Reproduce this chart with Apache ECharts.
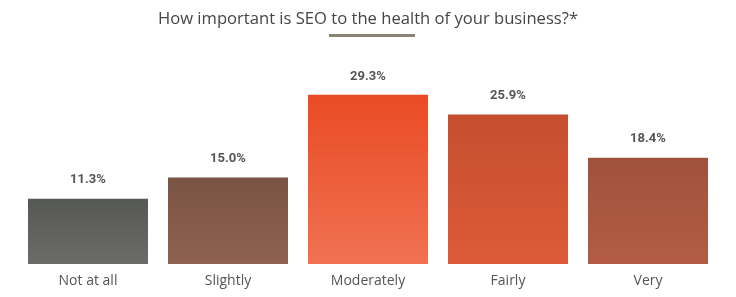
<!DOCTYPE html>
<html>
<head>
<meta charset="utf-8">
<script src="https://cdn.jsdelivr.net/npm/echarts@6/dist/echarts.min.js"></script>
<style>html,body{margin:0;padding:0;background:#fff}#c{width:736px;height:297px}</style>
</head>
<body>
<div id="c"></div>
<script>
const categories = ["Not at all", "Slightly", "Moderately", "Fairly", "Very"];
const values = [11.3, 15.0, 29.3, 25.9, 18.4];
const titleText = "How important is SEO to the health of your business?*";
const barColors = [
  ["#565854", "#6b6c68"],
  ["#7a5344", "#8f6251"],
  ["#e94b24", "#f07152"],
  ["#c54e2f", "#dd5b37"],
  ["#a1523c", "#b25c44"]
];

const chart = echarts.init(document.getElementById('c'), null, {renderer: 'canvas'});
chart.setOption({
  animation: false,
  backgroundColor: '#ffffff',
  title: {
    text: titleText,
    left: 'center',
    top: 6,
    textStyle: {fontFamily: 'Open Sans', fontWeight: 'normal', fontSize: 16.6, color: '#454545'}
  },
  graphic: [{
    type: 'rect',
    shape: {x: 329, y: 34, width: 86, height: 3},
    style: {fill: '#8b8373'}
  }],
  grid: {left: 18, right: 18, top: 33, bottom: 33},
  xAxis: {
    type: 'category',
    data: categories,
    axisLine: {show: false},
    axisTick: {show: false},
    axisLabel: {fontFamily: 'Open Sans', fontSize: 14, color: '#555555', margin: 10}
  },
  yAxis: {
    type: 'value',
    min: 0,
    max: 40,
    show: false,
    splitLine: {show: false}
  },
  series: [{
    type: 'bar',
    barWidth: 120,
    data: values.map((v, i) => ({
      value: v,
      itemStyle: {
        color: new echarts.graphic.LinearGradient(0, 0, 0, 1, [
          {offset: 0, color: barColors[i][0]},
          {offset: 1, color: barColors[i][1]}
        ])
      }
    })),
    label: {
      show: true,
      position: 'top',
      distance: 12,
      formatter: p => p.value.toFixed(1) + '%',
      fontFamily: 'Roboto, sans-serif',
      fontWeight: 'bold',
      fontSize: 13,
      color: '#555555'
    }
  }]
});
</script>
</body>
</html>
